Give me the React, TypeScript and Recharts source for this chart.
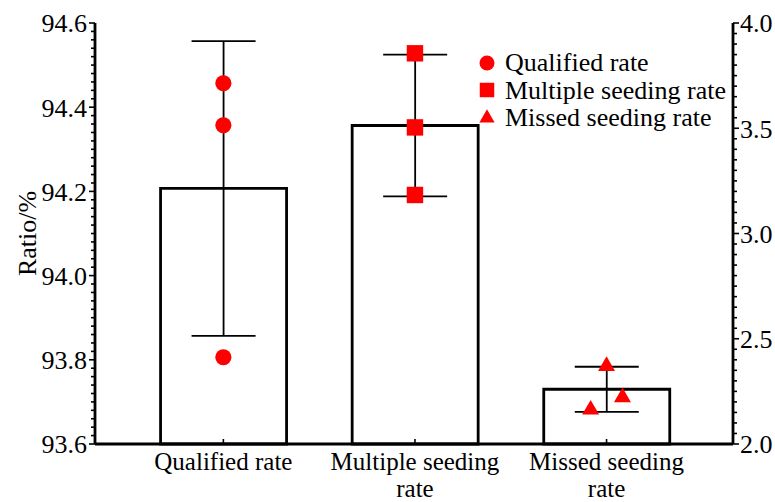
import React from 'react';
import {
  ComposedChart,
  Bar,
  Scatter,
  XAxis,
  YAxis,
  ZAxis,
  ErrorBar,
  Legend,
  Symbols,
} from 'recharts';

const FONT = 'Liberation Serif, "Times New Roman", Times, "DejaVu Serif", serif';
const RED = '#ff0000';

const categories = ['Qualified rate', 'Multiple seeding rate', 'Missed seeding rate'];
const categoryLines = [['Qualified rate'], ['Multiple seeding', 'rate'], ['Missed seeding', 'rate']];
const categoryPos = [1, 2, 3];

// bar means and error half-ranges
const qualifiedMean = 94.207;
const qualifiedErr = 0.35;
const seedingMeans = [3.513, 2.26];
const seedingErrs = [0.337, 0.107];

// single test results
const qualifiedX = [1, 1, 1];
const qualifiedVals = [94.457, 94.357, 93.806];
const multipleX = [2, 2, 2];
const multipleVals = [3.856, 3.504, 3.183];
const missedX = [3.0, 3.083, 2.917];
const missedVals = [2.37, 2.222, 2.163];

const leftTicks = Array.from({ length: 51 }, (_, i) => Math.round((93.6 + i * 0.02) * 100) / 100);
const rightTicks = Array.from({ length: 41 }, (_, i) => Math.round((2 + i * 0.05) * 100) / 100);

const barData = [
  { x: categoryPos[0], left: qualifiedMean, leftErr: qualifiedErr },
  { x: categoryPos[1], right: seedingMeans[0], rightErr: seedingErrs[0] },
  { x: categoryPos[2], right: seedingMeans[1], rightErr: seedingErrs[1] },
];

const toPts = (xs: number[], ys: number[]) => xs.map((x, i) => ({ x, y: ys[i] }));

const textStyle = { fontFamily: FONT, fontSize: 26 };

const LeftTick = (props: any) => {
  const { x, y, payload } = props;
  const v = payload.value;
  const major = Math.round(v * 100) % 20 === 0;
  return (
    <g>
      <line x1={x} x2={x - (major ? 6 : 4)} y1={y} y2={y} stroke="#000" strokeWidth={1.6} />
      {major && (
        <text x={x - 8} y={y} dy="0.36em" textAnchor="end" fill="#000" style={textStyle}>
          {v.toFixed(1)}
        </text>
      )}
    </g>
  );
};

const RightTick = (props: any) => {
  const { x, y, payload } = props;
  const v = payload.value;
  const major = Math.round(v * 100) % 50 === 0;
  return (
    <g>
      <line x1={x} x2={x + (major ? 6 : 4)} y1={y} y2={y} stroke="#000" strokeWidth={1.6} />
      {major && (
        <text x={x + 7} y={y} dy="0.36em" textAnchor="start" fill="#000" style={textStyle}>
          {v.toFixed(1)}
        </text>
      )}
    </g>
  );
};

const BottomTick = (props: any) => {
  const { x, y, payload } = props;
  const lines = categoryLines[categoryPos.indexOf(payload.value)] || [];
  return (
    <g>
      <line x1={x} x2={x} y1={y} y2={y - 5} stroke="#000" strokeWidth={1.6} />
      <text x={x} y={y + 26} textAnchor="middle" fill="#000" style={{ fontFamily: FONT, fontSize: 25 }}>
        {lines.map((ln, i) => (
          <tspan key={ln} x={x} dy={i === 0 ? 0 : 26.5}>
            {ln}
          </tspan>
        ))}
      </text>
    </g>
  );
};

const TopTick = (props: any) => {
  const { x, y } = props;
  return <line x1={x} x2={x} y1={y} y2={y + 5} stroke="#000" strokeWidth={1.6} />;
};

const symbolArea: Record<string, number> = { circle: 177, square: 210, triangle: 100 };

const renderLegend = (props: any) => {
  const items = (props.payload || [])
    .filter((e: any) => categories.includes(e.value))
    .sort((a: any, b: any) => categories.indexOf(a.value) - categories.indexOf(b.value));
  return (
    <div style={{ fontFamily: FONT, fontSize: 26, lineHeight: '27.5px', color: '#000' }}>
      {items.map((entry: any) => (
        <div key={entry.value} style={{ display: 'flex', alignItems: 'center', height: 27.5 }}>
          <svg width={16} height={16} style={{ overflow: 'visible' }}>
            <Symbols cx={8} cy={8} type={entry.type} size={symbolArea[entry.type]} fill={entry.color} />
          </svg>
          <span style={{ marginLeft: 10, whiteSpace: 'nowrap' }}>{entry.value}</span>
        </div>
      ))}
    </div>
  );
};

const axisLine = { stroke: '#000', strokeWidth: 2.8 };
const xDomain = [0.33, 3.66];

export default function App() {
  return (
    <div style={{ position: 'absolute', left: 0, top: 0, background: '#fff', fontFamily: FONT }}>
      <ComposedChart
        width={775}
        height={502}
        data={barData}
        margin={{ top: 23, right: 0, bottom: 0, left: 0 }}
        style={{ fontFamily: FONT }}
      >
        <XAxis
          xAxisId="a"
          dataKey="x"
          type="number"
          domain={xDomain}
          ticks={categoryPos}
          interval={0}
          height={58}
          tickSize={0}
          tickMargin={0}
          tickLine={false}
          axisLine={axisLine}
          tick={<BottomTick />}
        />
        <XAxis xAxisId="b" dataKey="x" type="number" domain={xDomain} ticks={categoryPos} hide />
        <XAxis xAxisId="pts" dataKey="x" type="number" domain={xDomain} ticks={categoryPos} hide />
        <XAxis
          xAxisId="top"
          dataKey="x"
          type="number"
          orientation="top"
          domain={xDomain}
          ticks={categoryPos}
          interval={0}
          height={0}
          tickSize={0}
          tickMargin={0}
          tickLine={false}
          axisLine={axisLine}
          tick={<TopTick />}
        />
        <YAxis
          yAxisId="left"
          type="number"
          domain={[93.6, 94.6]}
          ticks={leftTicks}
          interval={0}
          width={95}
          tickSize={0}
          tickMargin={0}
          tickLine={false}
          axisLine={axisLine}
          tick={<LeftTick />}
          label={{
            value: 'Ratio/%',
            angle: -90,
            position: 'insideLeft',
            offset: 27,
            style: { textAnchor: 'middle', fontSize: 26, fontFamily: FONT, fill: '#000' },
          }}
        />
        <YAxis
          yAxisId="right"
          orientation="right"
          type="number"
          domain={[2, 4]}
          ticks={rightTicks}
          interval={0}
          width={42}
          tickSize={0}
          tickMargin={0}
          tickLine={false}
          axisLine={axisLine}
          tick={<RightTick />}
        />
        <ZAxis zAxisId="circ" range={[205, 205]} />
        <ZAxis zAxisId="sq" range={[270, 270]} />
        <ZAxis zAxisId="tri" range={[125, 125]} />

        <Bar
          xAxisId="a"
          yAxisId="left"
          dataKey="left"
          barSize={126}
          fill="#fff"
          stroke="#000"
          strokeWidth={2.8}
          legendType="none"
          isAnimationActive={false}
        >
          <ErrorBar dataKey="leftErr" width={32} stroke="#000" strokeWidth={1.8} direction="y" />
        </Bar>
        <Bar
          xAxisId="b"
          yAxisId="right"
          dataKey="right"
          barSize={126}
          fill="#fff"
          stroke="#000"
          strokeWidth={2.8}
          legendType="none"
          isAnimationActive={false}
        >
          <ErrorBar dataKey="rightErr" width={32} stroke="#000" strokeWidth={1.8} direction="y" />
        </Bar>

        <Scatter
          name="Qualified rate"
          data={toPts(qualifiedX, qualifiedVals)}
          dataKey="y"
          xAxisId="pts"
          yAxisId="left"
          zAxisId="circ"
          shape="circle"
          legendType="circle"
          fill={RED}
          isAnimationActive={false}
        />
        <Scatter
          name="Multiple seeding rate"
          data={toPts(multipleX, multipleVals)}
          dataKey="y"
          xAxisId="pts"
          yAxisId="right"
          zAxisId="sq"
          shape="square"
          legendType="square"
          fill={RED}
          isAnimationActive={false}
        />
        <Scatter
          name="Missed seeding rate"
          data={toPts(missedX, missedVals)}
          dataKey="y"
          xAxisId="pts"
          yAxisId="right"
          zAxisId="tri"
          shape="triangle"
          legendType="triangle"
          fill={RED}
          isAnimationActive={false}
        />

        <Legend
          layout="vertical"
          align="center"
          verticalAlign="middle"
          content={renderLegend}
          wrapperStyle={{ left: 479, top: 49, width: 'auto' }}
        />
      </ComposedChart>
    </div>
  );
}
